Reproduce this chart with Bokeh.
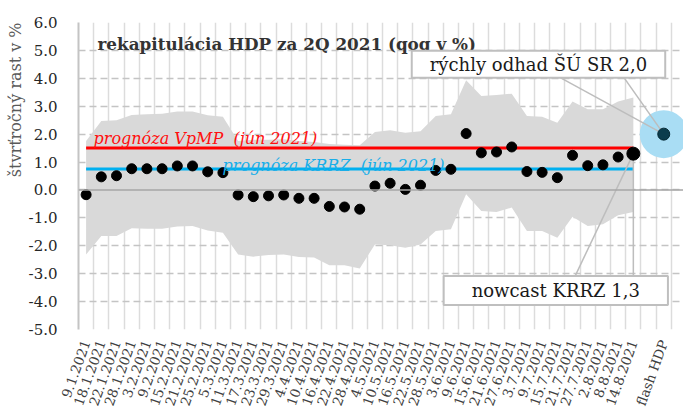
import numpy as np
from bokeh.plotting import figure
from bokeh.models import Range1d, FixedTicker, PrintfTickFormatter, Span, Label, Title
from bokeh.embed import file_html
from bokeh.resources import INLINE

# ---- data ----
dates = ["9.1.2021", "18.1.2021", "22.1.2021", "28.1.2021", "3.2.2021", "9.2.2021",
         "15.2.2021", "21.2.2021", "25.2.2021", "5.3.2021", "11.3.2021", "17.3.2021",
         "23.3.2021", "29.3.2021", "4.4.2021", "10.4.2021", "16.4.2021", "22.4.2021",
         "28.4.2021", "4.5.2021", "10.5.2021", "16.5.2021", "22.5.2021", "28.5.2021",
         "3.6.2021", "9.6.2021", "15.6.2021", "21.6.2021", "27.6.2021", "3.7.2021",
         "9.7.2021", "15.7.2021", "21.7.2021", "27.7.2021", "2.8.2021", "8.8.2021",
         "14.8.2021"]
nowcast = [-0.17, 0.47, 0.51, 0.76, 0.76, 0.76, 0.86, 0.86, 0.65, 0.62,
           -0.18, -0.24, -0.21, -0.18, -0.30, -0.30, -0.59, -0.61, -0.69,
           0.14, 0.24, 0.02, 0.17, 0.70, 0.74, 2.02, 1.33, 1.36, 1.54,
           0.66, 0.63, 0.44, 1.24, 0.87, 0.90, 1.18, 1.30]
band_upper = [1.75, 2.47, 2.50, 2.69, 2.71, 2.73, 2.81, 2.81, 2.68, 2.62,
              1.75, 1.80, 1.80, 1.82, 1.75, 1.72, 1.65, 1.62, 1.60,
              2.08, 2.14, 2.05, 2.10, 2.65, 2.71, 3.93, 3.37, 3.40, 3.45,
              2.65, 2.62, 2.41, 3.17, 2.89, 2.89, 3.17, 3.31]
band_lower = [-2.31, -1.65, -1.65, -1.37, -1.39, -1.39, -1.31, -1.29, -1.45, -1.53,
              -2.31, -2.39, -2.33, -2.31, -2.40, -2.42, -2.70, -2.70, -2.81,
              -1.95, -1.98, -2.07, -1.95, -1.47, -1.41, -0.15, -0.75, -0.79, -0.63,
              -1.47, -1.47, -1.71, -0.96, -1.29, -1.23, -0.91, -0.79]
flash_label = "flash HDP"
flash_value = 2.0
nowcast_final = 1.3
forecast_vpmp = 1.5
forecast_krrz = 0.75
y_ticks = [-5, -4, -3, -2, -1, 0, 1, 2, 3, 4, 5, 6]

x = np.arange(len(dates))
flash_x = len(dates) + 1
last_x = x[-1]

SERIF = "DejaVu Serif"
NB = "\u00a0"

p = figure(width=683, height=419, output_backend="svg", toolbar_location=None,
           x_range=Range1d(-0.5, 39.3), y_range=Range1d(-5, 6),
           min_border_left=78, min_border_right=0, min_border_top=22, min_border_bottom=90)
p.outline_line_color = None
p.background_fill_color = "white"
p.title.visible = False

# grids
p.ygrid.ticker = FixedTicker(ticks=y_ticks)
p.ygrid.grid_line_color = "#c4c4c4"
p.ygrid.grid_line_dash = "7 4"
p.ygrid.grid_line_width = 1.4
p.xgrid.ticker = FixedTicker(ticks=[k + 0.5 for k in range(-1, 40)])
p.xgrid.grid_line_color = "#dcdcdc"
p.xgrid.grid_line_width = 1.5

# axes
p.yaxis.ticker = FixedTicker(ticks=y_ticks)
p.yaxis.formatter = PrintfTickFormatter(format="%.1f")
p.yaxis.axis_line_color = "#c4c4c4"
p.yaxis.axis_line_width = 2
p.yaxis.major_tick_line_color = None
p.yaxis.minor_tick_line_color = None
p.yaxis.major_label_standoff = 15
p.yaxis.major_label_text_font = SERIF
p.yaxis.major_label_text_font_size = "15px"
p.yaxis.major_label_text_color = "#262626"

tick_pos = list(x) + [flash_x]
p.xaxis.ticker = FixedTicker(ticks=tick_pos)
overrides = {int(k): d for k, d in zip(x, dates)}
overrides[flash_x] = flash_label
p.xaxis.major_label_overrides = overrides
p.xaxis.major_label_orientation = np.deg2rad(70)
p.xaxis.axis_line_color = None
p.xaxis.major_tick_line_color = None
p.xaxis.minor_tick_line_color = None
p.xaxis.major_label_standoff = 5
p.xaxis.major_label_text_font = SERIF
p.xaxis.major_label_text_font_size = "13.5px"
p.xaxis.major_label_text_color = "#404040"

p.add_layout(Title(text="štvrťročný rast v %", align="right", text_font=SERIF,
                   text_font_size="16px", text_font_style="normal",
                   text_color="#595959", standoff=2), "left")

# band
p.varea(x=x, y1=band_lower, y2=band_upper, fill_color="#d9d9d9")

# zero line
p.add_layout(Span(location=0, dimension="width", line_color="#a6a6a6", line_width=1.6))

# forecast lines
p.line(x=[x[0], last_x], y=[forecast_vpmp, forecast_vpmp], line_color="#ff0000", line_width=3)
p.line(x=[x[0], last_x], y=[forecast_krrz, forecast_krrz], line_color="#00b0f0", line_width=3)

# leader lines
lead_col = "#bdbdbd"
p.segment(x0=[32.2, last_x], y0=[-3.05, -3.05], x1=[last_x, last_x], y1=[nowcast_final, nowcast_final],
          line_color=lead_col, line_width=1.5)

# halo + flash
p.scatter(x=[flash_x], y=[flash_value], size=48, fill_color="#a9ddf4", line_color=None)
p.segment(x0=[31.1, 35.35], y0=[4.05, 4.05], x1=[flash_x, flash_x], y1=[flash_value, flash_value],
          line_color=lead_col, line_width=1.5)
p.scatter(x=[flash_x], y=[flash_value], size=12, fill_color="#0b3c4d", line_color="#062a36")

# nowcast points
p.scatter(x=x, y=nowcast, size=10, fill_color="black", line_color="black")
p.scatter(x=[last_x], y=[nowcast_final], size=13, fill_color="black", line_color="black")

# texts
p.add_layout(Label(x=0.75, y=5.22, text="rekapitulácia HDP za 2Q 2021 (qoq v %)",
                   text_font=SERIF, text_font_size="16.8px", text_font_style="bold",
                   text_color="#333333", text_baseline="alphabetic"))
p.add_layout(Label(x=0.49, y=1.83, text="prognóza VpMP " + NB + "(jún 2021)",
                   text_font=SERIF, text_font_size="16px", text_font_style="italic",
                   text_color="#ff1010", text_baseline="alphabetic"))
p.add_layout(Label(x=8.98, y=0.88, text="prognóza KRRZ " + NB + "(jún 2021)",
                   text_font=SERIF, text_font_size="16px", text_font_style="italic",
                   text_color="#1aaee8", text_baseline="alphabetic"))
p.add_layout(Label(x=29.76, y=4.5, text="rýchly odhad ŠÚ SR 2,0",
                   text_font=SERIF, text_font_size="18px", text_color="#1a1a1a",
                   text_align="center", text_baseline="middle",
                   background_fill_color="white", border_line_color="#bfbfbf",
                   border_line_width=2, padding=(18, 3)))
p.add_layout(Label(x=30.9, y=-3.6, text="nowcast KRRZ 1,3",
                   text_font=SERIF, text_font_size="18px", text_color="#1a1a1a",
                   text_align="center", text_baseline="middle",
                   background_fill_color="white", border_line_color="#bfbfbf",
                   border_line_width=2, padding=(28, 4)))

open("out.html", "w").write(file_html(p, INLINE))
